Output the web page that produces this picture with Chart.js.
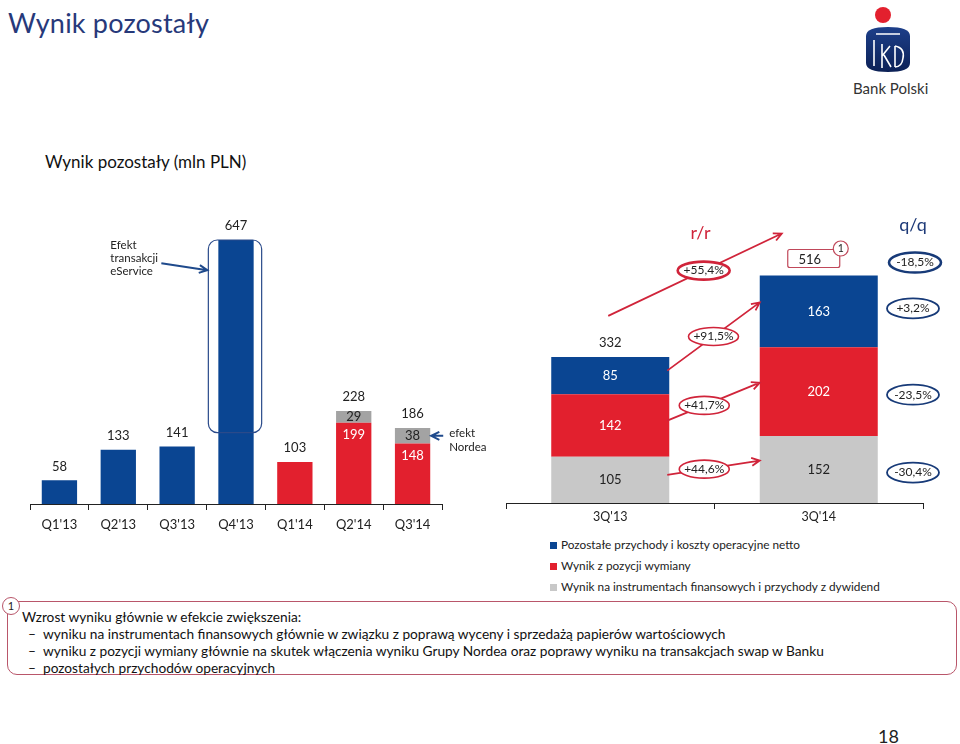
<!DOCTYPE html>
<html>
<head>
<meta charset="utf-8">
<script src="https://cdn.jsdelivr.net/npm/chart.js@4.4.0/dist/chart.umd.min.js"></script>
<style>
  body { margin: 0; background: #fff; font-family: Lato, "Noto Sans", sans-serif; }
  #page { position: relative; width: 960px; height: 744px; overflow: hidden; }
  .abs { position: absolute; white-space: nowrap; }
  #title { left: 8px; top: 6px; font-size: 27px; font-weight: normal; color: #27397a; letter-spacing: 0.2px; }
  #subtitle { left: 45px; top: 151px; font-size: 17px; color: #111; }
  canvas { position: absolute; }
  .leg { left: 550px; font-size: 11.8px; color: #222; }
  .leg i { display: inline-block; width: 7px; height: 7px; margin-right: 4px; vertical-align: 0px; }
  #note { left: 7px; top: 601px; width: 948px; height: 72px; border: 1.5px solid #b9566a; border-radius: 10px; }
  #noteNum { left: 2px; top: 597px; width: 16px; height: 16px; border: 1.5px solid #b9566a; border-radius: 50%;
             background: #fff; font-size: 11px; text-align: center; line-height: 16px; color: #222; }
  .nt { font-size: 13.7px; color: #111; }
  #pageNo { left: 878px; top: 725px; font-size: 18px; color: #222; }
</style>
</head>
<body>
<div id="page">
  <div class="abs" id="title">Wynik pozostały</div>

  <svg class="abs" style="left:845px;top:0px" width="100" height="100" viewBox="0 0 100 100">
    <defs>
      <linearGradient id="pkoG" x1="0" y1="0" x2="0" y2="1">
        <stop offset="0" stop-color="#1d3f8a"/>
        <stop offset="1" stop-color="#0c2156"/>
      </linearGradient>
    </defs>
    <circle cx="38" cy="15" r="8" fill="#e3202e"/>
    <path d="M21 36 Q21 27 43 27 Q65 27 65 36 L65 63 Q65 72 43 72 Q21 72 21 63 Z" fill="url(#pkoG)"/>
    <path d="M31 34 L55 34" stroke="#fff" stroke-width="1.5"/>
    <path d="M29 40 L29 66 M37 44 L37 68 M37 56 L45 46 M39 55 L46 67 M50 46 L50 67 M50 46 Q60 48 58 58 Q57 67 50 67" stroke="#fff" stroke-width="1.6" fill="none"/>
    <text x="8" y="94" font-family="Lato, sans-serif" font-size="15" fill="#333">Bank Polski</text>
  </svg>

  <div class="abs" id="subtitle">Wynik pozostały (mln PLN)</div>

  <canvas id="leftChart" width="470" height="344" style="left:30px;top:190px"></canvas>
  <canvas id="rightChart" width="460" height="333" style="left:500px;top:200px"></canvas>

  <div class="abs leg" style="top:537px"><i style="background:#0a4592"></i>Pozostałe przychody i koszty operacyjne netto</div>
  <div class="abs leg" style="top:558px"><i style="background:#e2202e"></i>Wynik z pozycji wymiany</div>
  <div class="abs leg" style="top:579px"><i style="background:#c8c8c8"></i>Wynik na instrumentach finansowych i przychody z dywidend</div>

  <div class="abs" id="note"></div>
  <div class="abs" id="noteNum">1</div>
  <div class="abs nt" style="left:22px;top:608px">Wzrost wyniku głównie w efekcie zwiększenia:</div>
  <div class="abs nt" style="left:28px;top:625px">–</div>
  <div class="abs nt" style="left:43px;top:625px">wyniku na instrumentach finansowych głównie w związku z poprawą wyceny i sprzedażą papierów wartościowych</div>
  <div class="abs nt" style="left:28px;top:642px">–</div>
  <div class="abs nt" style="left:43px;top:642px">wyniku z pozycji wymiany głównie na skutek włączenia wyniku Grupy Nordea oraz poprawy wyniku na transakcjach swap w Banku</div>
  <div class="abs nt" style="left:28px;top:659px">–</div>
  <div class="abs nt" style="left:43px;top:659px">pozostałych przychodów operacyjnych</div>

  <div class="abs" id="pageNo">18</div>
</div>

<script>
/* --------------- Data --------------------- */
const quarters = ["Q1'13", "Q2'13", "Q3'13", "Q4'13", "Q1'14", "Q2'14", "Q3'14"];
const quarterBase = [58, 133, 141, 647, 103, 199, 148];
const quarterNordea = [null, null, null, null, null, 29, 38];

const periods = ["3Q'13", "3Q'14"];
const instrumenty = [105, 152];
const wymiana = [142, 202];
const pozostale = [85, 163];
const periodTotals = [332, 516]; // as reported (rounded)

const rrChanges = ["+44,6%", "+41,7%", "+91,5%"];
const rrTotal = "+55,4%";
const qqChanges = ["-30,4%", "-23,5%", "+3,2%"];
const qqTotal = "-18,5%";

/* --------------- Colors --------------------- */
const BLUE = "#0a4592";
const RED = "#e2202e";
const GRAY_DARK = "#a3a3a3";
const GRAY_LIGHT = "#c8c8c8";
const FONT = "Lato, 'Noto Sans', sans-serif";
const quarterColors = quarters.map((q, i) => (i < 4 ? BLUE : RED));

/* --------------- Helpers --------------------- */
function txt(ctx, s, x, y, color, size, align) {
  ctx.fillStyle = color;
  ctx.font = size + "px " + FONT;
  ctx.textAlign = align || "center";
  ctx.textBaseline = "middle";
  ctx.fillText(s, x, y);
}
function arrow(ctx, x1, y1, x2, y2, color, w) {
  const a = Math.atan2(y2 - y1, x2 - x1);
  const h = 9;
  ctx.strokeStyle = color;
  ctx.lineWidth = w;
  ctx.beginPath();
  ctx.moveTo(x1, y1);
  ctx.lineTo(x2, y2);
  ctx.moveTo(x2 - h * Math.cos(a - 0.45), y2 - h * Math.sin(a - 0.45));
  ctx.lineTo(x2, y2);
  ctx.lineTo(x2 - h * Math.cos(a + 0.45), y2 - h * Math.sin(a + 0.45));
  ctx.stroke();
}
function oval(ctx, s, x, y, rx, ry, color, w) {
  ctx.beginPath();
  ctx.ellipse(x, y, rx, ry, 0, 0, Math.PI * 2);
  ctx.fillStyle = "#fff";
  ctx.fill();
  ctx.strokeStyle = color;
  ctx.lineWidth = w;
  ctx.stroke();
  txt(ctx, s, x, y, "#222", 12);
}

/* --------------- Left chart (quarters) --------------------- */
const leftLabels = {
  id: "leftLabels",
  afterDatasetsDraw(chart) {
    const ctx = chart.ctx;
    const y = chart.scales.y;
    const bars = chart.getDatasetMeta(0).data;
    ctx.save();
    bars.forEach((bar, i) => {
      const extra = quarterNordea[i] || 0;
      const total = quarterBase[i] + extra;
      txt(ctx, String(total), bar.x, y.getPixelForValue(total) - 14, "#222", 13);
      if (extra) {
        txt(ctx, String(quarterBase[i]), bar.x, y.getPixelForValue(quarterBase[i]) + 12, "#fff", 13);
        txt(ctx, String(extra), bar.x, y.getPixelForValue(quarterBase[i] + extra / 2), "#222", 13);
      }
    });
    // outline of Q4'13 bar
    const b = bars[3];
    const left = b.x - b.width / 2 - 10;
    const right = b.x + b.width / 2 + 8;
    const top = y.getPixelForValue(quarterBase[3]);
    const bottom = y.getPixelForValue(175);
    ctx.strokeStyle = "#2a4a8a";
    ctx.lineWidth = 1.2;
    ctx.beginPath();
    ctx.roundRect(left, top, right - left, bottom - top, 9);
    ctx.stroke();
    const ya = y.getPixelForValue(573);
    arrow(ctx, left - 47, ya - 7, left - 1, ya, "#1f4a8c", 2);
    ["Efekt", "transakcji", "eService"].forEach((s, k) =>
      txt(ctx, s, left - 98, ya - 25 + k * 13, "#222", 11.5, "left"));
    // efekt Nordea
    const n = bars[6];
    const yn = y.getPixelForValue(quarterBase[6] + quarterNordea[6] / 2);
    const nx = n.x + n.width / 2;
    arrow(ctx, nx + 13, yn, nx + 1, yn, "#1f4a8c", 2);
    txt(ctx, "efekt", nx + 19, yn - 3, "#222", 11.5, "left");
    txt(ctx, "Nordea", nx + 19, yn + 11, "#222", 11.5, "left");
    ctx.restore();
  },
};

new Chart(document.getElementById("leftChart"), {
  type: "bar",
  plugins: [leftLabels],
  data: {
    labels: quarters,
    datasets: [
      { data: quarterBase, backgroundColor: quarterColors },
      { data: quarterNordea, backgroundColor: GRAY_DARK },
    ],
  },
  options: {
    responsive: false,
    animation: false,
    layout: { padding: { top: 8, right: 58, left: 0, bottom: 0 } },
    datasets: { bar: { categoryPercentage: 1, barPercentage: 0.6 } },
    plugins: { legend: { display: false }, tooltip: { enabled: false } },
    scales: {
      x: {
        stacked: true,
        grid: { drawOnChartArea: false, drawTicks: true, tickLength: 6, color: "#222" },
        border: { color: "#222", width: 1 },
        ticks: { color: "#222", font: { family: FONT, size: 13 }, padding: 7 },
        afterFit: (a) => { a.height = 30; },
      },
      y: { stacked: true, display: false, min: 0, max: 750 },
    },
  },
});

/* --------------- Right chart (3Q'13 vs 3Q'14) --------------------- */
const rightLabels = {
  id: "rightLabels",
  afterDatasetsDraw(chart) {
    const ctx = chart.ctx;
    const y = chart.scales.y;
    const area = chart.chartArea;
    const series = [instrumenty, wymiana, pozostale];
    const b1 = chart.getDatasetMeta(0).data[0];
    const b2 = chart.getDatasetMeta(0).data[1];
    const mids = [[], []];
    const tops = [];
    ctx.save();
    [0, 1].forEach((i) => {
      let cum = 0;
      series.forEach((s, d) => {
        const m = y.getPixelForValue(cum + s[i] / 2);
        mids[i].push(m);
        const bx = i === 0 ? b1.x : b2.x;
        txt(ctx, String(s[i]), bx, m, d === 0 ? "#222" : "#fff", 13);
        cum += s[i];
      });
      tops.push(y.getPixelForValue(cum));
    });
    const top1 = tops[0];
    const top2 = tops[1];
    txt(ctx, String(periodTotals[0]), b1.x, top1 - 14, "#222", 13);
    // 516 box with footnote mark
    ctx.strokeStyle = "#c0485a";
    ctx.lineWidth = 1.2;
    ctx.beginPath();
    ctx.roundRect(b2.x - 31, top2 - 26, 52, 18, 2);
    ctx.stroke();
    txt(ctx, String(periodTotals[1]), b2.x - 9, top2 - 16, "#222", 13);
    ctx.beginPath();
    ctx.arc(b2.x + 22, top2 - 27, 7.5, 0, Math.PI * 2);
    ctx.fillStyle = "#fff";
    ctx.fill();
    ctx.stroke();
    txt(ctx, "1", b2.x + 22, top2 - 27, "#222", 10.5);

    const r1 = b1.x + b1.width / 2;
    const l2 = b2.x - b2.width / 2;
    // r/r arrows per segment
    rrChanges.forEach((s, d) => {
      const x1 = r1 - 2, yy1 = mids[0][d] - 5;
      const x2 = l2, yy2 = mids[1][d] - 9;
      arrow(ctx, x1, yy1, x2, yy2, "#d0243a", 1.8);
      const t = d === 2 ? 0.5 : 0.4;
      oval(ctx, s, x1 + (x2 - x1) * t, yy1 + (yy2 - yy1) * t, 25, 9, "#d0243a", 1.6);
    });
    // r/r total
    const ax1 = b1.x - 2, ay1 = top1 - 41, ax2 = l2 + 22, ay2 = top2 - 42;
    arrow(ctx, ax1, ay1, ax2, ay2, "#d0243a", 1.8);
    oval(ctx, rrTotal, ax1 + (ax2 - ax1) * 0.55, ay1 + (ay2 - ay1) * 0.55, 26, 9, "#d0243a", 2.6);
    txt(ctx, "r/r", (r1 + l2) / 2 - 14, ay2, "#d0243a", 18);
    // q/q
    const qx = area.right - 10;
    txt(ctx, "q/q", qx, top2 - 50, "#1e3a78", 18);
    qqChanges.forEach((s, d) => oval(ctx, s, qx, mids[1][d] + (d === 2 ? -3 : 3), 26, 10, "#173a78", 1.8));
    oval(ctx, qqTotal, qx + 2, top2 - 13, 26, 10, "#173a78", 2.6);
    ctx.restore();
  },
};

new Chart(document.getElementById("rightChart"), {
  type: "bar",
  plugins: [rightLabels],
  data: {
    labels: periods,
    datasets: [
      { label: "Wynik na instrumentach finansowych i przychody z dywidend", data: instrumenty, backgroundColor: GRAY_LIGHT },
      { label: "Wynik z pozycji wymiany", data: wymiana, backgroundColor: RED },
      { label: "Pozostałe przychody i koszty operacyjne netto", data: pozostale, backgroundColor: BLUE },
    ],
  },
  options: {
    responsive: false,
    animation: false,
    layout: { padding: { top: 39, right: 37, left: 6, bottom: 0 } },
    datasets: { bar: { categoryPercentage: 1, barPercentage: 0.566 } },
    plugins: { legend: { display: false }, tooltip: { enabled: false } },
    scales: {
      x: {
        stacked: true,
        grid: { drawOnChartArea: false, drawTicks: true, tickLength: 6, color: "#222" },
        border: { color: "#222", width: 1 },
        ticks: { color: "#222", font: { family: FONT, size: 12.5 }, padding: 0 },
        afterFit: (a) => { a.height = 30; },
      },
      y: { stacked: true, display: false, min: 0, max: 600 },
    },
  },
});
</script>
</body>
</html>
